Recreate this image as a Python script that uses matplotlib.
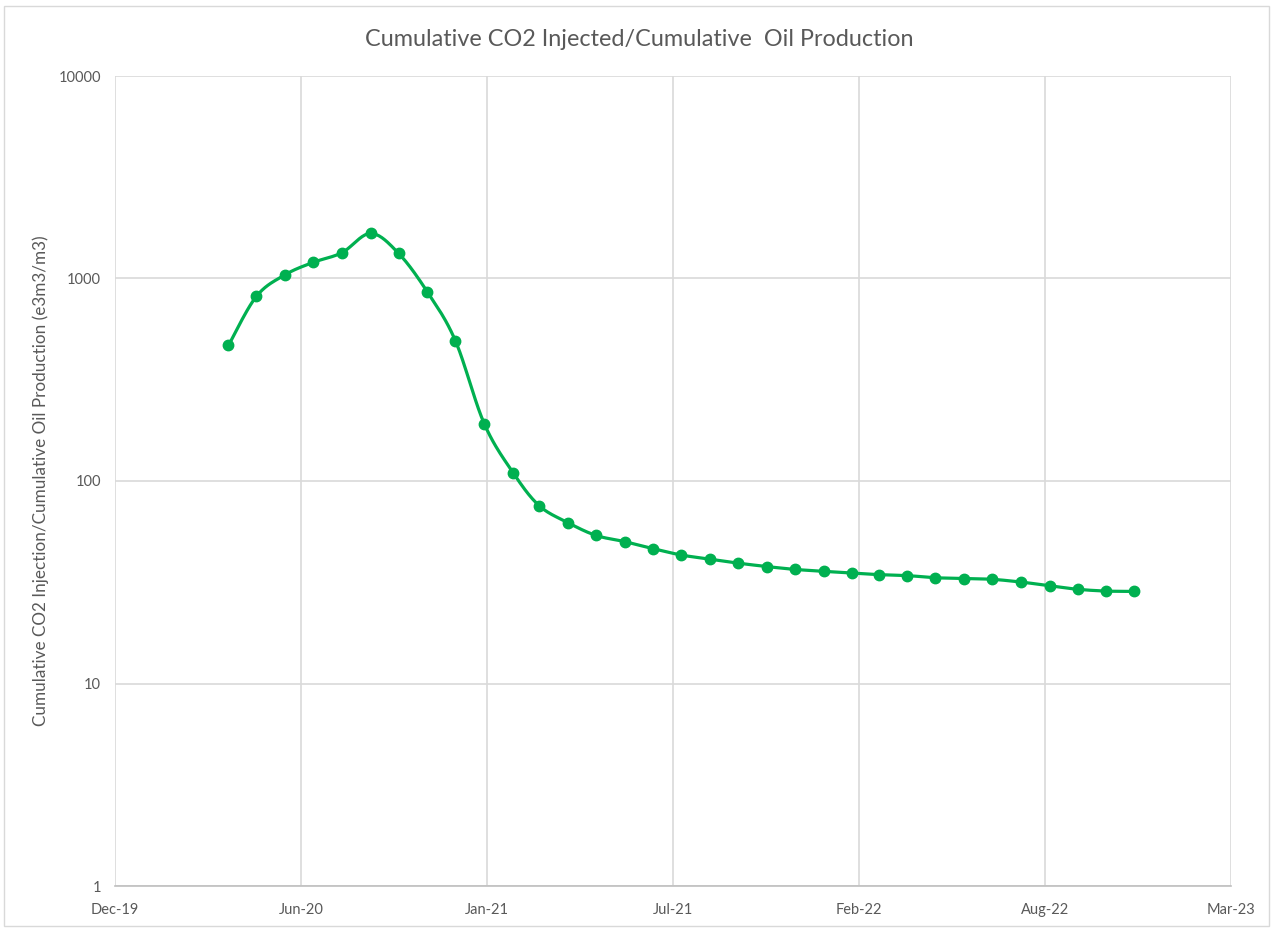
import numpy as np
import matplotlib
matplotlib.use("Agg")
import matplotlib.pyplot as plt
import matplotlib.dates as mdates
from matplotlib.patches import Rectangle
from datetime import date, timedelta

plt.rcParams['font.family'] = ['Lato', 'DejaVu Sans']

# monthly data, Apr 2020 .. Dec 2022
months = [date(2020 + (3 + i) // 12, (3 + i) % 12 + 1, 1) for i in range(33)]
ratio = [467, 816, 1044, 1201, 1341, 1670, 1330, 857, 493,
         192, 110, 75.6, 62.3, 53.9, 50.2, 46.4, 43.1, 41.1, 39.3, 37.8, 36.6,
         35.8, 35.1, 34.5, 34.1, 33.3, 33.0, 32.7, 31.7, 30.4, 29.2, 28.6, 28.5]

# Excel-style date axis: Dec-19 start, major unit 200 days
axis_start = date(2019, 12, 1)
major_days = 200
tick_labels = ["Dec-19", "Jun-20", "Jan-21", "Jul-21", "Feb-22", "Aug-22", "Mar-23"]
tick_dates = [axis_start + timedelta(days=major_days * k) for k in range(len(tick_labels))]

y_ticks = [1, 10, 100, 1000, 10000]

green = "#00B050"
grid_c = "#D9D9D9"
text_c = "#595959"


def smooth(xs, ys, n=20):
    # Excel-like smoothed line (Catmull-Rom bezier segments)
    xs = np.asarray(xs, float)
    ys = np.asarray(ys, float)
    px = np.concatenate([[xs[0]], xs, [xs[-1]]])
    py = np.concatenate([[ys[0]], ys, [ys[-1]]])
    outx, outy = [], []
    t = np.linspace(0, 1, n, endpoint=False)
    for i in range(1, len(px) - 2):
        p0 = np.array([px[i], py[i]])
        p3 = np.array([px[i + 1], py[i + 1]])
        c1 = p0 + (p3 - np.array([px[i - 1], py[i - 1]])) / 6
        c2 = p3 - (np.array([px[i + 2], py[i + 2]]) - p0) / 6
        pts = ((1 - t)[:, None] ** 3 * p0 + 3 * ((1 - t) ** 2 * t)[:, None] * c1
               + 3 * ((1 - t) * t ** 2)[:, None] * c2 + (t ** 3)[:, None] * p3)
        outx.extend(pts[:, 0])
        outy.extend(pts[:, 1])
    outx.append(xs[-1])
    outy.append(ys[-1])
    return np.array(outx), np.array(outy)


fig = plt.figure(figsize=(12.73, 9.30), dpi=100)
ax = fig.add_axes([115 / 1273, 1 - 886 / 930, (1231 - 115) / 1273, (886 - 76) / 930])

xnum = mdates.date2num(months)
sx, sy = smooth(xnum, np.log10(ratio))
ax.plot(sx, 10 ** sy, color=green, lw=2.3, solid_capstyle="round", zorder=3)
ax.plot(xnum, ratio, "o", color=green, ms=7.5, zorder=4)

ax.set_yscale("log")
ax.set_ylim(1, 10000)
ax.set_yticks(y_ticks)
ax.set_yticklabels([str(v) for v in y_ticks])
ax.minorticks_off()
ax.set_xlim(mdates.date2num(tick_dates[0]), mdates.date2num(tick_dates[-1]))
ax.set_xticks(mdates.date2num(tick_dates))
ax.set_xticklabels(tick_labels)

ax.grid(True, color=grid_c, lw=1.2)
ax.set_axisbelow(True)
for s in ["top", "right", "left"]:
    ax.spines[s].set_visible(False)
ax.spines["bottom"].set_color("#BFBFBF")
ax.spines["bottom"].set_linewidth(1.2)
ax.tick_params(length=0, colors=text_c, labelsize=10.5, pad=12)
ax.tick_params(axis="y", pad=10)

ax.set_ylabel("Cumulative CO2 Injection/Cumulative Oil Production (e3m3/m3)",
              color=text_c, fontsize=12.3, labelpad=7)
fig.text(0.502, 1 - 40 / 930, "Cumulative CO2 Injected/Cumulative  Oil Production",
         ha="center", va="center", color=text_c, fontsize=16.8)

fig.patches.append(Rectangle((0.003, 0.004), 0.994, 0.99, transform=fig.transFigure,
                             fill=False, edgecolor=grid_c, lw=1))

fig.savefig("out.png", dpi=100)
